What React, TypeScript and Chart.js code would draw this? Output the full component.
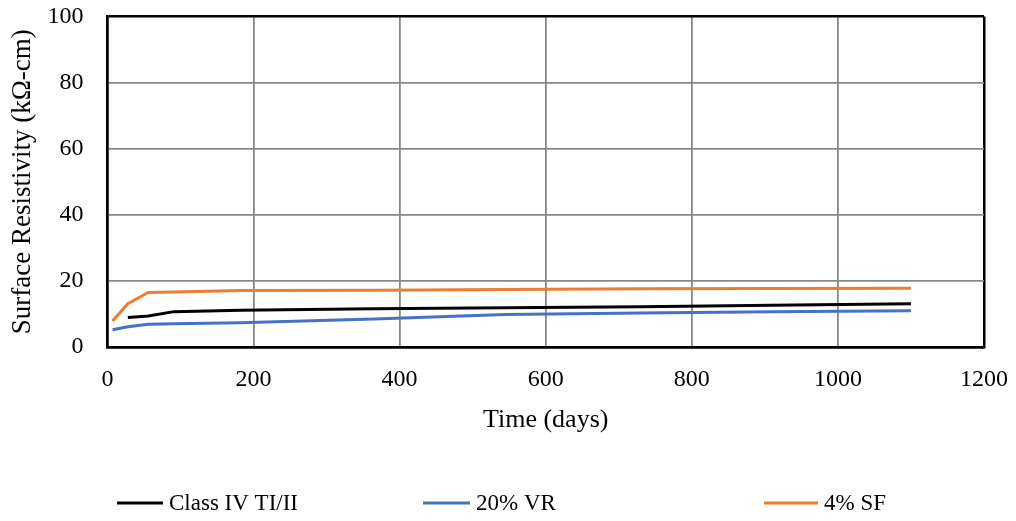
import React, { useEffect, useRef } from "react";
import { Chart, registerables } from "chart.js";

Chart.register(...registerables);

const days = [7, 28, 56, 91, 182, 365, 545, 730, 910, 1100];
const classIV = [null, 8.9, 9.4, 10.7, 11.1, 11.6, 11.9, 12.2, 12.6, 13.1];
const vr20 = [5.2, 6.1, 6.9, 7.0, 7.3, 8.5, 9.8, 10.3, 10.7, 11.0];
const sf4 = [7.9, 13.1, 16.5, 16.6, 17.1, 17.2, 17.4, 17.6, 17.7, 17.8];
const seriesNames = ["Class IV TI/II", "20% VR", "4% SF"];
const seriesColors = ["#000000", "#4472C4", "#ED7D31"];
const xTitle = "Time (days)";
const yTitle = "Surface Resistivity (kΩ-cm)";

const FONT = "'Liberation Serif', 'Times New Roman', serif";
const legendStarts = [117, 423, 764];
const legendLineLengths = [46, 47, 54];

const legendPlugin = {
  id: "customLegend",
  afterDraw(chart: any) {
    const ctx = chart.ctx;
    ctx.save();
    ctx.font = `23px ${FONT}`;
    ctx.textBaseline = "middle";
    ctx.fillStyle = "#000";
    const y = 503;
    chart.data.datasets.forEach((ds: any, i: number) => {
      const x0 = legendStarts[i];
      const len = legendLineLengths[i];
      ctx.strokeStyle = ds.borderColor;
      ctx.lineWidth = 3;
      ctx.beginPath();
      ctx.moveTo(x0, y);
      ctx.lineTo(x0 + len, y);
      ctx.stroke();
      ctx.fillText(ds.label, x0 + len + 6, y + 1);
    });
    ctx.restore();
  },
};

export default function App() {
  const ref = useRef<HTMLCanvasElement | null>(null);
  useEffect(() => {
    document.body.style.margin = "0";
    const toPts = (vals: (number | null)[]) =>
      days.map((d, i) => ({ x: d, y: vals[i] })).filter((p) => p.y !== null);
    const all = [classIV, vr20, sf4];
    const edgeX = (ctx: any) => ctx.tick && (ctx.tick.value === 0 || ctx.tick.value === 1200);
    const edgeY = (ctx: any) => ctx.tick && (ctx.tick.value === 0 || ctx.tick.value === 100);
    const chart = new Chart(ref.current!, {
      type: "line",
      data: {
        datasets: all.map((vals, i) => ({
          label: seriesNames[i],
          data: toPts(vals) as any,
          borderColor: seriesColors[i],
          backgroundColor: seriesColors[i],
          borderWidth: 3,
          pointRadius: 0,
          tension: 0,
          fill: false,
        })),
      },
      plugins: [legendPlugin],
      options: {
        animation: false,
        responsive: true,
        maintainAspectRatio: false,
        layout: { padding: { left: 4, right: 32, top: 0, bottom: 85 } },
        plugins: {
          tooltip: { enabled: false },
          legend: { display: false },
        },
        scales: {
          x: {
            type: "linear",
            min: 0,
            max: 1200,
            ticks: {
              stepSize: 200,
              font: { family: FONT, size: 24 },
              color: "#000",
              padding: 2,
              callback: (v: any) => String(v),
            },
            grid: {
              color: (ctx: any) => (edgeX(ctx) ? "#000" : "#888"),
              lineWidth: (ctx: any) => (edgeX(ctx) ? 2.5 : 1.8),
              drawTicks: true,
              tickLength: 16,
              tickColor: "rgba(0,0,0,0)",
            },
            border: { color: "#000", width: 2.5 },
            title: {
              display: true,
              text: xTitle,
              font: { family: FONT, size: 26 },
              color: "#000",
              padding: { top: 9, bottom: 0 },
            },
          },
          y: {
            min: 0,
            max: 100,
            ticks: {
              stepSize: 20,
              font: { family: FONT, size: 24 },
              color: "#000",
              padding: 2,
              callback: (v: any) => String(v),
            },
            grid: {
              color: (ctx: any) => (edgeY(ctx) ? "#000" : "#888"),
              lineWidth: (ctx: any) => (edgeY(ctx) ? 2.5 : 1.8),
              drawTicks: true,
              tickLength: 22,
              tickColor: "rgba(0,0,0,0)",
            },
            border: { color: "#000", width: 2.5 },
            title: {
              display: true,
              text: yTitle,
              font: { family: FONT, size: 27 },
              color: "#000",
              padding: { top: 3, bottom: 6 },
            },
          },
        },
      },
    });
    return () => chart.destroy();
  }, []);
  return (
    <div style={{ position: "relative", width: 1016, height: 521 }}>
      <canvas ref={ref} />
    </div>
  );
}
